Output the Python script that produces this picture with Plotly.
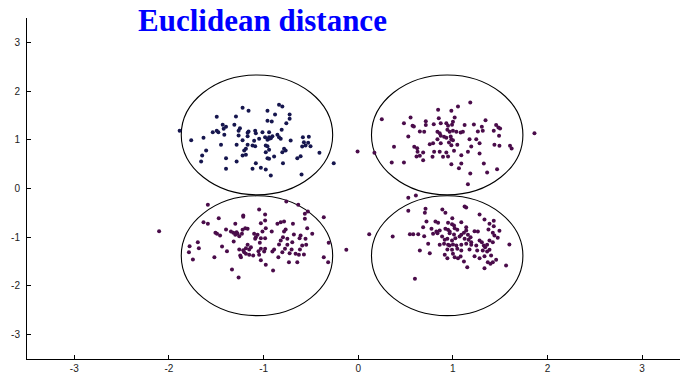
import plotly.graph_objects as go

# Cluster A (top-left, navy)
tl_x = [-0.837,-0.802,-1.222,-1.159,-0.959,-0.725,-1.495,-1.292,-0.879,-0.725,
        -0.959,-0.914,-1.432,-1.397,-1.309,-1.422,-1.250,-0.760,-1.887,-1.537,
        -1.495,-1.478,-1.264,-1.169,-1.159,-1.089,-1.082,-1.012,-0.942,-0.809,
        -0.907,-0.854,-1.415,-1.264,-1.169,-1.222,-1.100,-1.047,-0.984,-0.942,
        -0.924,-0.959,-0.837,-0.819,-0.942,-1.765,-1.635,-0.714,-0.585,-0.522,
        -0.574,-0.529,-0.557,-0.592,-0.504,-1.450,-1.285,-1.169,-1.117,-1.089,
        -0.977,-0.959,-1.187,-1.205,-0.942,-0.977,-0.784,-0.767,-0.802,-1.607,
        -1.649,-1.222,-1.187,-0.889,-0.959,-0.942,-1.397,-0.609,-0.644,-1.660,
        -1.285,-1.082,-0.795,-0.410,-0.259,-1.397,-1.117,-1.029,-0.977,-0.924,-0.599]
tl_y = [1.718,1.684,1.656,1.595,1.595,1.520,1.471,1.478,1.520,1.430,
        1.389,1.376,1.307,1.266,1.307,1.225,1.239,1.342,1.184,1.157,
        1.184,1.157,1.184,1.143,1.170,1.184,1.136,1.157,1.157,1.205,
        1.075,1.102,1.102,1.088,1.075,0.992,0.979,1.020,1.054,1.020,
        1.034,1.000,1.054,1.020,1.054,0.992,1.040,0.986,1.054,1.061,
        0.951,0.938,0.883,0.862,0.869,0.897,0.897,0.897,0.883,0.869,
        0.883,0.869,0.815,0.780,0.794,0.746,0.815,0.780,0.746,0.780,
        0.678,0.678,0.691,0.657,0.623,0.609,0.623,0.664,0.623,0.554,
        0.554,0.520,0.520,0.732,0.520,0.404,0.404,0.425,0.390,0.267,0.287]

# Cluster B (top-right)
tr_x = [1.184,1.054,0.844,0.984,0.553,0.249,0.851,1.019,0.714,1.001,
        0.483,0.574,0.588,0.714,0.798,0.872,0.931,0.949,0.991,1.124,
        1.222,1.345,1.306,1.457,1.481,1.499,0.651,0.697,0.837,0.861,
        0.942,0.966,1.001,1.037,1.082,1.106,1.264,1.316,1.432,0.529,
        0.872,0.907,0.931,0.977,0.984,1.001,0.959,0.837,0.756,0.791,
        0.872,0.984,1.047,1.176,1.247,1.282,1.488,1.439,1.492,1.604,
        1.621,0.378,0.592,0.623,0.627,0.686,0.802,0.861,0.931,1.012,
        1.089,1.194,1.159,1.282,0.616,0.651,0.785,0.896,0.949,0.171,
        0.354,0.483,0.686,0.984,1.089,1.064,1.327,1.362,1.467,1.184,
        1.159,1.862,-0.007]
tr_y = [1.766,1.684,1.615,1.595,1.458,1.424,1.444,1.458,1.383,1.369,
        1.342,1.287,1.273,1.301,1.321,1.342,1.342,1.287,1.307,1.301,
        1.314,1.403,1.266,1.301,1.253,1.232,1.170,1.163,1.163,1.136,
        1.205,1.163,1.184,1.163,1.150,1.163,1.170,1.184,1.184,1.068,
        1.081,1.061,1.040,1.068,1.013,0.992,0.945,1.013,0.910,0.931,
        0.931,0.890,0.897,1.013,1.013,0.931,1.081,0.897,0.876,0.876,
        0.821,0.856,0.856,0.828,0.753,0.739,0.753,0.753,0.739,0.774,
        0.684,0.862,0.753,0.719,0.657,0.671,0.651,0.651,0.657,0.733,
        0.534,0.534,0.581,0.499,0.513,0.417,0.513,0.329,0.396,0.308,
        0.088,1.136,0.760]

# Cluster C (bottom-left)
bl_x = [-1.589,-0.760,-0.634,-0.532,-1.047,-0.984,-1.215,-1.215,-1.474,-0.984,
        -0.364,-0.564,-0.564,-1.635,-1.589,-1.299,-1.029,-0.854,-0.819,-0.784,
        -0.690,-0.977,-1.194,-1.169,-1.222,-1.397,-1.345,-1.509,-1.492,-1.460,
        -1.320,-1.285,-1.275,-1.229,-1.257,-1.299,-1.100,-1.064,-1.012,-0.914,
        -0.767,-0.784,-0.539,-0.680,-0.609,-0.486,-1.082,-1.029,-0.984,-1.089,
        -0.795,-0.749,-0.819,-1.316,-1.040,-0.837,-0.749,-0.697,-0.620,-0.557,
        -0.312,-1.695,-1.782,-1.684,-1.439,-1.169,-1.134,-1.187,-1.152,-1.215,
        -1.257,-1.029,-0.984,-0.889,-0.774,-0.704,-0.592,-0.550,-0.616,-1.789,
        -1.387,-1.205,-1.187,-1.054,-0.994,-0.907,-0.802,-0.725,-0.662,-0.627,
        -0.574,-1.747,-1.520,-1.247,-1.239,-1.152,-1.110,-1.047,-1.029,-0.844,
        -0.364,-0.732,-0.644,-0.318,-0.977,-1.334,-0.900,-1.264,-2.104,-0.126]
bl_y = [-0.335,-0.267,-0.335,-0.472,-0.431,-0.534,-0.554,-0.582,-0.609,-0.657,
        -0.589,-0.623,-0.520,-0.691,-0.726,-0.726,-0.712,-0.726,-0.691,-0.678,
        -0.726,-0.815,-0.815,-0.828,-0.849,-0.842,-0.883,-0.910,-0.931,-0.965,
        -0.910,-0.897,-0.931,-0.931,-0.979,-0.951,-0.931,-0.951,-0.883,-0.883,
        -0.842,-0.883,-0.815,-0.945,-0.965,-0.931,-1.000,-1.020,-1.020,-1.034,
        -1.000,-1.034,-1.068,-1.088,-1.116,-1.150,-1.157,-1.102,-1.020,-1.034,
        -1.116,-1.102,-1.184,-1.225,-1.191,-1.157,-1.205,-1.225,-1.253,-1.266,
        -1.253,-1.239,-1.239,-1.253,-1.239,-1.253,-1.170,-1.157,-1.253,-1.307,
        -1.287,-1.307,-1.341,-1.287,-1.294,-1.294,-1.307,-1.328,-1.341,-1.362,
        -1.355,-1.458,-1.410,-1.376,-1.410,-1.362,-1.376,-1.362,-1.472,-1.410,
        -1.410,-1.513,-1.513,-1.513,-1.567,-1.663,-1.684,-1.828,-0.877,-1.259]

# Cluster D (bottom-right)
br_x = [0.529,0.609,0.711,0.704,0.529,0.889,0.921,1.124,1.141,1.282,
        1.334,1.387,1.432,0.721,0.816,0.844,0.949,0.991,1.012,1.089,
        0.994,0.686,0.774,0.826,0.861,0.921,0.949,0.966,1.019,1.047,
        1.141,1.229,1.264,1.376,1.432,1.492,1.422,1.439,1.474,0.116,
        0.364,0.546,0.581,0.634,0.697,0.791,0.837,0.886,0.966,1.012,
        1.026,1.071,1.089,1.117,1.141,1.159,1.187,1.124,1.166,1.194,
        0.914,0.942,0.991,0.907,0.949,0.966,1.001,1.037,1.089,1.141,
        1.194,1.247,1.282,1.306,1.327,1.341,1.387,1.422,1.362,1.597,
        0.739,0.861,0.651,0.942,0.991,1.047,1.089,1.176,1.257,1.316,
        1.362,1.387,0.756,0.914,1.001,1.019,1.054,0.942,1.082,1.229,
        1.282,1.334,1.404,1.457,1.369,1.422,1.397,1.562,1.117,1.152,
        1.334,0.599]
br_y = [-0.192,-0.144,-0.417,-0.500,-0.459,-0.431,-0.500,-0.370,-0.390,-0.534,
        -0.637,-0.726,-0.664,-0.678,-0.678,-0.705,-0.705,-0.733,-0.760,-0.691,
        -0.609,-0.794,-0.828,-0.883,-0.862,-0.828,-0.849,-0.883,-0.815,-0.849,
        -0.794,-0.876,-0.883,-0.842,-0.773,-0.869,-0.910,-0.965,-1.013,-0.938,
        -0.986,-0.938,-0.938,-0.938,-0.979,-0.931,-0.917,-0.986,-0.917,-0.945,
        -1.020,-0.986,-0.951,-0.910,-0.862,-0.951,-1.000,-1.034,-1.054,-1.102,
        -1.054,-1.034,-1.068,-1.136,-1.157,-1.170,-1.150,-1.170,-1.157,-1.136,
        -1.157,-1.170,-1.068,-1.102,-1.170,-1.205,-1.068,-1.102,-1.157,-1.150,
        -1.136,-1.157,-1.273,-1.253,-1.259,-1.239,-1.273,-1.253,-1.273,-1.273,
        -1.294,-1.259,-1.328,-1.362,-1.341,-1.410,-1.431,-1.431,-1.396,-1.390,
        -1.431,-1.390,-1.376,-1.464,-1.513,-1.513,-1.546,-1.581,-1.499,-1.616,
        -1.636,-1.854]

# Circles (centre and radii in data units)
circle_cx = [-1.07, 0.94, -1.07, 0.94]
circle_cy = [1.10, 1.10, -1.38, -1.38]
circle_rx = 0.80
circle_ry = 1.23

tick_vals = [-3, -2, -1, 0, 1, 2, 3]
tick_text = ["-3", "-2", "-1", "0", "1", "2", "3"]

title_text = "Euclidean distance"

navy = "#16164e"
purple = "#4a0c4a"

fig = go.Figure()
for xs, ys, col in [(tl_x, tl_y, navy), (tr_x, tr_y, purple),
                    (bl_x, bl_y, purple), (br_x, br_y, purple)]:
    fig.add_trace(go.Scatter(x=xs, y=ys, mode="markers",
                             marker=dict(size=4, color=col, line=dict(width=0)),
                             showlegend=False, hoverinfo="skip"))

for cx, cy in zip(circle_cx, circle_cy):
    fig.add_shape(type="circle", xref="x", yref="y",
                  x0=cx - circle_rx, x1=cx + circle_rx,
                  y0=cy - circle_ry, y1=cy + circle_ry,
                  line=dict(color="black", width=1.1), layer="below")

axis_common = dict(showgrid=False, zeroline=False, showline=True,
                   linecolor="black", linewidth=1, ticks="inside",
                   ticklen=4, tickcolor="black", mirror=False, automargin=False,
                   tickfont=dict(family="Liberation Sans, Arial", size=10, color="#222"))

fig.update_xaxes(range=[-3.5, 3.4], tickvals=tick_vals, ticktext=tick_text, **axis_common)
fig.update_yaxes(range=[-3.5, 3.5], tickvals=tick_vals, ticktext=tick_text,
                 ticklabelstandoff=4, **axis_common)

fig.add_annotation(text="<b>" + title_text + "</b>", xref="paper", yref="paper",
                   x=0.36, y=0.994, xanchor="center", yanchor="middle",
                   showarrow=False,
                   font=dict(family="Liberation Serif, Times New Roman", size=31, color="#0000ff"))

fig.update_layout(width=680, height=374,
                  margin=dict(l=27, r=0, t=18, b=15, autoexpand=False),
                  paper_bgcolor="white", plot_bgcolor="white")

fig.write_html("out.html", config={"displayModeBar": False},
               post_script="document.body.style.margin='0';document.body.style.padding='0';")
